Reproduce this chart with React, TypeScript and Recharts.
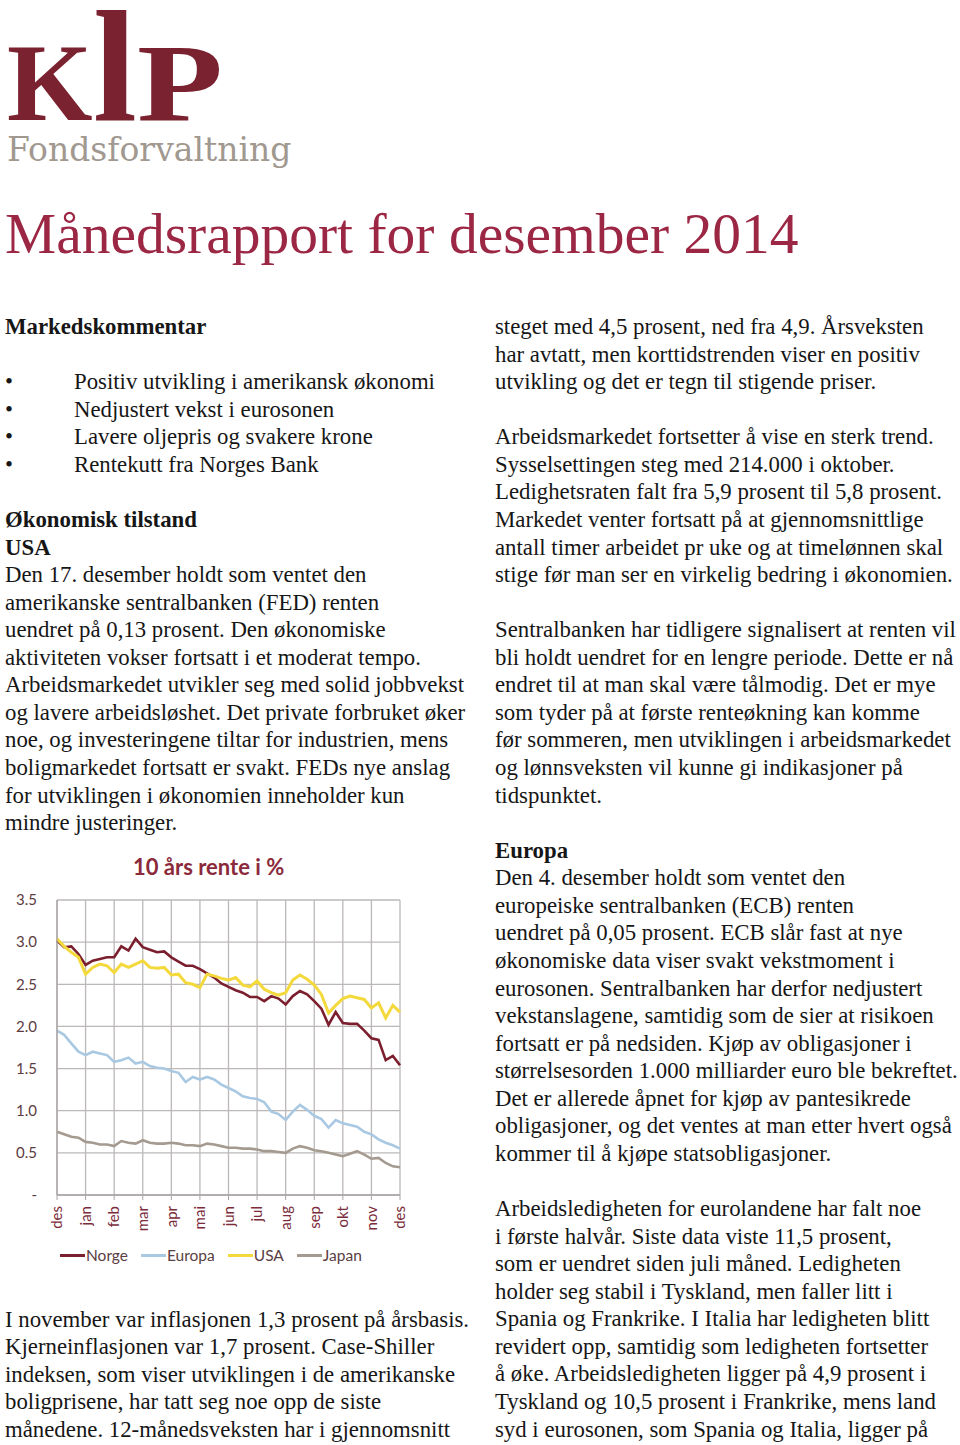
import React from "react"
import { LineChart, Line, XAxis, YAxis, CartesianGrid, Legend } from "recharts"

// month positions (quarter-month steps), des 2013 -> des 2014
const pos = [
  0, 0.25, 0.5, 0.75, 1, 1.25, 1.5, 1.75, 2, 2.25, 2.5, 2.75, 3, 3.25, 3.5, 3.75, 4,
  4.25, 4.5, 4.75, 5, 5.25, 5.5, 5.75, 6, 6.25, 6.5, 6.75, 7, 7.25, 7.5, 7.75, 8,
  8.25, 8.5, 8.75, 9, 9.25, 9.5, 9.75, 10, 10.25, 10.5, 10.75, 11, 11.25, 11.5, 11.75, 12,
]

const norge = [
  3.02, 2.94, 2.95, 2.86, 2.73, 2.78, 2.8, 2.82, 2.82, 2.95, 2.9, 3.04, 2.94, 2.91, 2.88, 2.89, 2.82,
  2.77, 2.72, 2.72, 2.68, 2.63, 2.58, 2.51, 2.47, 2.43, 2.4, 2.35, 2.35, 2.3, 2.36, 2.33, 2.26,
  2.36, 2.42, 2.38, 2.3, 2.21, 2.02, 2.17, 2.04, 2.03, 2.03, 1.95, 1.86, 1.84, 1.6, 1.65, 1.54,
]
const europa = [
  1.95, 1.9, 1.8, 1.7, 1.66, 1.7, 1.68, 1.66, 1.58, 1.6, 1.63, 1.56, 1.58, 1.53, 1.51, 1.5, 1.47,
  1.45, 1.34, 1.4, 1.37, 1.4, 1.37, 1.31, 1.27, 1.23, 1.17, 1.15, 1.14, 1.1, 0.99, 0.96, 0.89,
  0.99, 1.07, 1.01, 0.94, 0.9, 0.8, 0.89, 0.85, 0.83, 0.81, 0.75, 0.72, 0.66, 0.62, 0.59, 0.55,
]
const usa = [
  3.04, 2.95, 2.88, 2.82, 2.62, 2.7, 2.74, 2.72, 2.64, 2.74, 2.7, 2.74, 2.78, 2.7, 2.69, 2.7, 2.61,
  2.62, 2.52, 2.5, 2.46, 2.62, 2.6, 2.57, 2.55, 2.58, 2.49, 2.47, 2.54, 2.44, 2.4, 2.37, 2.4,
  2.55, 2.61, 2.56, 2.49, 2.38, 2.16, 2.25, 2.33, 2.36, 2.34, 2.32, 2.22, 2.28, 2.1, 2.25, 2.17,
]
const japan = [
  0.75, 0.72, 0.69, 0.68, 0.63, 0.62, 0.6, 0.6, 0.58, 0.64, 0.62, 0.61, 0.65, 0.62, 0.61, 0.61, 0.62,
  0.61, 0.59, 0.59, 0.58, 0.61, 0.6, 0.58, 0.56, 0.56, 0.55, 0.55, 0.54, 0.52, 0.52, 0.51, 0.5,
  0.55, 0.58, 0.56, 0.53, 0.52, 0.5, 0.48, 0.46, 0.49, 0.52, 0.48, 0.43, 0.44, 0.38, 0.34, 0.33,
]

const months = ["des", "jan", "feb", "mar", "apr", "mai", "jun", "jul", "aug", "sep", "okt", "nov", "des"]
const monthTicks = [0, 1, 2, 3, 4, 5, 6, 7, 8, 9, 10, 11, 12]
const yTicks = [0, 0.5, 1, 1.5, 2, 2.5, 3, 3.5]

const series = [
  { key: "norge", name: "Norge", color: "#7b1f2f", width: 2.6 },
  { key: "europa", name: "Europa", color: "#a9c8e2", width: 2.6 },
  { key: "usa", name: "USA", color: "#f4d93c", width: 3 },
  { key: "japan", name: "Japan", color: "#a59a90", width: 2.6 },
]

const data = pos.map((m, i) => ({ m, norge: norge[i], europa: europa[i], usa: usa[i], japan: japan[i] }))

const leftTop = [
  { t: "Markedskommentar", b: true },
  { t: "" },
  { t: "Positiv utvikling i amerikansk økonomi", bullet: true },
  { t: "Nedjustert vekst i eurosonen", bullet: true },
  { t: "Lavere oljepris og svakere krone", bullet: true },
  { t: "Rentekutt fra Norges Bank", bullet: true },
  { t: "" },
  { t: "Økonomisk tilstand", b: true },
  { t: "USA", b: true },
  { t: "Den 17. desember holdt som ventet den" },
  { t: "amerikanske sentralbanken (FED) renten" },
  { t: "uendret på 0,13 prosent. Den økonomiske" },
  { t: "aktiviteten vokser fortsatt i et moderat tempo." },
  { t: "Arbeidsmarkedet utvikler seg med solid jobbvekst" },
  { t: "og lavere arbeidsløshet. Det private forbruket øker" },
  { t: "noe, og investeringene tiltar for industrien, mens" },
  { t: "boligmarkedet fortsatt er svakt. FEDs nye anslag" },
  { t: "for utviklingen i økonomien inneholder kun" },
  { t: "mindre justeringer." },
]

const leftBottom = [
  { t: "I november var inflasjonen 1,3 prosent på årsbasis." },
  { t: "Kjerneinflasjonen var 1,7 prosent. Case-Shiller" },
  { t: "indeksen, som viser utviklingen i de amerikanske" },
  { t: "boligprisene, har tatt seg noe opp de siste" },
  { t: "månedene. 12-månedsveksten har i gjennomsnitt" },
]

const rightCol = [
  { t: "steget med 4,5 prosent, ned fra 4,9. Årsveksten" },
  { t: "har avtatt, men korttidstrenden viser en positiv" },
  { t: "utvikling og det er tegn til stigende priser." },
  { t: "" },
  { t: "Arbeidsmarkedet fortsetter å vise en sterk trend." },
  { t: "Sysselsettingen steg med 214.000 i oktober." },
  { t: "Ledighetsraten falt fra 5,9 prosent til 5,8 prosent." },
  { t: "Markedet venter fortsatt på at gjennomsnittlige" },
  { t: "antall timer arbeidet pr uke og at timelønnen skal" },
  { t: "stige før man ser en virkelig bedring i økonomien." },
  { t: "" },
  { t: "Sentralbanken har tidligere signalisert at renten vil" },
  { t: "bli holdt uendret for en lengre periode. Dette er nå" },
  { t: "endret til at man skal være tålmodig. Det er mye" },
  { t: "som tyder på at første renteøkning kan komme" },
  { t: "før sommeren, men utviklingen i arbeidsmarkedet" },
  { t: "og lønnsveksten vil kunne gi indikasjoner på" },
  { t: "tidspunktet." },
  { t: "" },
  { t: "Europa", b: true },
  { t: "Den 4. desember holdt som ventet den" },
  { t: "europeiske sentralbanken (ECB) renten" },
  { t: "uendret på 0,05 prosent. ECB slår fast at nye" },
  { t: "økonomiske data viser svakt vekstmoment i" },
  { t: "eurosonen. Sentralbanken har derfor nedjustert" },
  { t: "vekstanslagene, samtidig som de sier at risikoen" },
  { t: "fortsatt er på nedsiden. Kjøp av obligasjoner i" },
  { t: "størrelsesorden 1.000 milliarder euro ble bekreftet." },
  { t: "Det er allerede åpnet for kjøp av pantesikrede" },
  { t: "obligasjoner, og det ventes at man etter hvert også" },
  { t: "kommer til å kjøpe statsobligasjoner." },
  { t: "" },
  { t: "Arbeidsledigheten for eurolandene har falt noe" },
  { t: "i første halvår. Siste data viste 11,5 prosent," },
  { t: "som er uendret siden juli måned. Ledigheten" },
  { t: "holder seg stabil i Tyskland, men faller litt i" },
  { t: "Spania og Frankrike. I Italia har ledigheten blitt" },
  { t: "revidert opp, samtidig som ledigheten fortsetter" },
  { t: "å øke. Arbeidsledigheten ligger på 4,9 prosent i" },
  { t: "Tyskland og 10,5 prosent i Frankrike, mens land" },
  { t: "syd i eurosonen, som Spania og Italia, ligger på" },
]

const LH = 27.575
const TOP = 313

type Ln = { t: string; b?: boolean; bullet?: boolean }

function Column({ lines, left, top }: { lines: Ln[]; left: number; top: number }) {
  return (
    <div style={{ position: "absolute", left, top, fontSize: 22.8, lineHeight: `${LH}px`, whiteSpace: "pre" }}>
      {lines.map((l, i) => (
        <div key={i} style={{ height: LH, fontWeight: l.b ? "bold" : "normal", position: "relative" }}>
          {l.bullet ? (
            <>
              <span style={{ position: "absolute", left: 0 }}>•</span>
              <span style={{ position: "absolute", left: 69 }}>{l.t}</span>
            </>
          ) : (
            l.t || "\u00a0"
          )}
        </div>
      ))}
    </div>
  )
}

function MonthTick({ x, y, payload }: any) {
  return (
    <g transform={`translate(${x},${y + 4})`}>
      <text transform="rotate(-90)" textAnchor="end" dy="0.35em" fontSize={15} fill="#7a2c3b" fontFamily="Lato, sans-serif">
        {months[payload.value]}
      </text>
    </g>
  )
}

function LegendBox() {
  return (
    <div style={{ height: 30, display: "flex", alignItems: "center", paddingLeft: 60, fontFamily: "Lato, sans-serif", fontSize: 15.5, color: "#5b3d42" }}>
      {series.map((s) => (
        <div key={s.key} style={{ display: "flex", alignItems: "center", marginRight: 13 }}>
          <span style={{ display: "inline-block", width: 25, height: 3, background: s.color, marginRight: 1 }} />
          <span>{s.name}</span>
        </div>
      ))}
    </div>
  )
}

export default function App() {
  return (
    <div
      style={{
        position: "absolute",
        left: 0,
        top: 0,
        width: 960,
        height: 1445,
        background: "#fff",
        overflow: "hidden",
        fontFamily: '"Liberation Serif", "Times New Roman", serif',
        color: "#161616",
      }}
    >
      <svg width={960} height={280} style={{ position: "absolute", left: 0, top: 0 }}>
        <g fill="#7b2230" fontFamily='"Liberation Serif", serif' fontWeight="bold">
          <text x={7} y={120} fontSize={110}>K</text>
          <text x={93} y={120} fontSize={158}>l</text>
          <text transform="translate(137,120) scale(1.28,1)" fontSize={110}>P</text>
        </g>
        <text x={7} y={161} fontSize={33} fill="#a1988f" fontFamily='"DejaVu Serif", serif'>
          Fondsforvaltning
        </text>
        <text x={5} y={253} fontSize={57.5} fill="#9c2744" fontFamily='"Liberation Serif", serif'>
          Månedsrapport for desember 2014
        </text>
      </svg>

      <Column lines={leftTop} left={5} top={TOP} />
      <Column lines={leftBottom} left={5} top={TOP + 36 * LH} />
      <Column lines={rightCol} left={495} top={TOP} />

      <div
        style={{
          position: "absolute",
          left: 133,
          top: 853,
          fontFamily: "Lato, sans-serif",
          fontWeight: "bold",
          fontSize: 22,
          color: "#8b2a3b",
          whiteSpace: "pre",
        }}
      >
        10 års rente i %
      </div>

      <div style={{ position: "absolute", left: 0, top: 850 }}>
        <LineChart width={420} height={420} data={data} margin={{ top: 50, right: 20, left: 0, bottom: 0 }}>
          <CartesianGrid stroke="#bcb8b8" strokeWidth={1.3} verticalValues={monthTicks} />
          <XAxis
            dataKey="m"
            type="number"
            domain={[0, 12]}
            ticks={monthTicks}
            interval={0}
            height={45}
            tick={<MonthTick />}
            tickSize={5}
            tickLine={{ stroke: "#a9a4a4" }}
            axisLine={{ stroke: "#a9a4a4", strokeWidth: 1.3 }}
          />
          <YAxis
            type="number"
            domain={[0, 3.5]}
            ticks={yTicks}
            interval={0}
            width={57}
            tickLine={false}
            tickSize={12}
            tickMargin={8}
            axisLine={{ stroke: "#a9a4a4", strokeWidth: 1.3 }}
            tick={{ fill: "#5c3b41", fontSize: 15, fontFamily: "Lato, sans-serif" }}
            tickFormatter={(v: number) => (v === 0 ? "-" : v.toFixed(1))}
          />
          <Legend verticalAlign="bottom" content={() => <LegendBox />} />
          {series.map((s) => (
            <Line
              key={s.key}
              dataKey={s.key}
              name={s.name}
              type="linear"
              stroke={s.color}
              strokeWidth={s.width}
              dot={false}
              isAnimationActive={false}
            />
          ))}
        </LineChart>
      </div>
    </div>
  )
}
